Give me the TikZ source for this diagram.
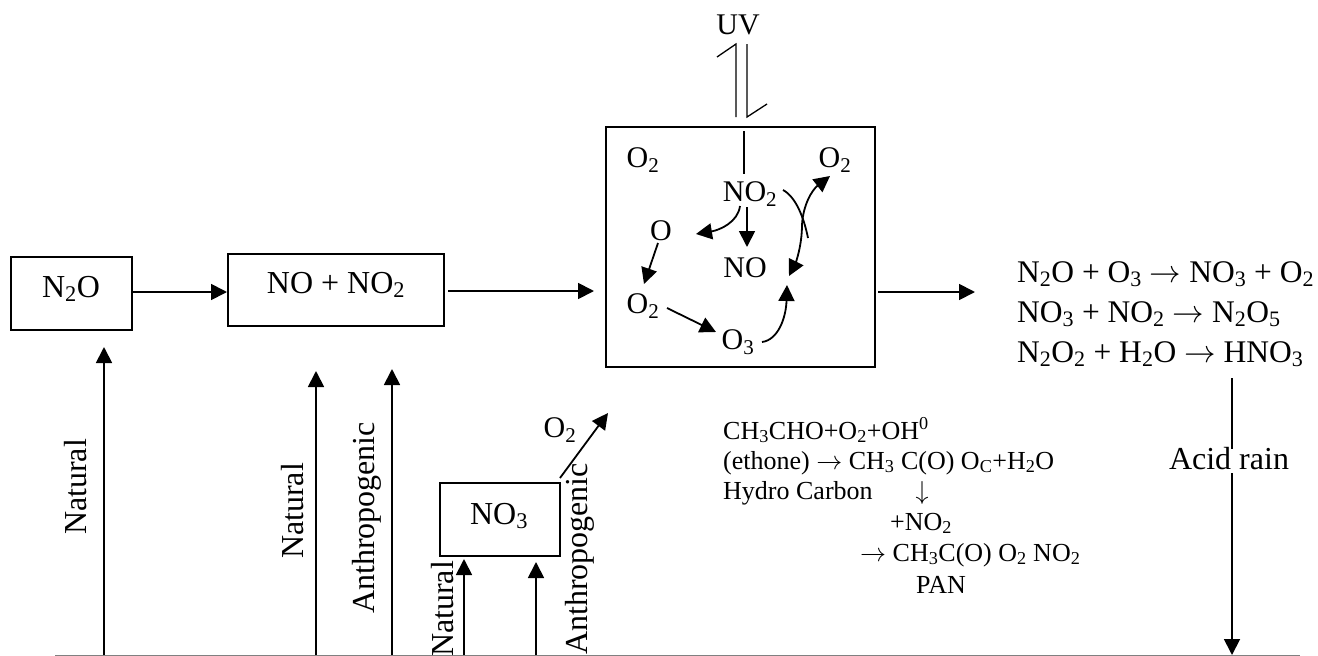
\documentclass[tikz,border=0pt]{standalone}
\usepackage{fix-cm}
\usepackage{fontspec}
\setmainfont{Liberation Serif}
\usetikzlibrary{arrows.meta}
\newcommand{\sbs}[1]{\textsubscript{#1}}
\newcommand{\rar}{$\rightarrow$}
\tikzset{
  lbl/.style={inner sep=0pt,font=\fontsize{30}{36}\selectfont},
  big/.style={inner sep=0pt,font=\fontsize{32}{38}\selectfont},
  sml/.style={inner sep=0pt,anchor=base west,font=\fontsize{26}{30}\selectfont},
  eqn/.style={inner sep=0pt,anchor=base west,font=\fontsize{31.5}{38}\selectfont},
  boxn/.style={draw,line width=1.9pt,inner sep=0pt},
  conn/.style={line width=1.8pt,-{Triangle[length=16pt,width=16pt]}},
  plain/.style={line width=1.8pt},
}
\begin{document}
\begin{tikzpicture}[x=1pt,y=-1pt]
\useasboundingbox (0,0) rectangle (1318,656);
% boxes
\node[boxn,minimum width=121pt,minimum height=73pt] (n2o) at (71.5,293.5) {};
\node[big] (n2ot) at (71,289) {N\sbs{2}O};
\node[boxn,minimum width=216pt,minimum height=72pt] (nono) at (336,290) {};
\node[big] (nonot) at (336,285) {NO + NO\sbs{2}};
\node[boxn,minimum width=269pt,minimum height=240pt] (big) at (740.5,247) {};
\node[boxn,minimum width=120pt,minimum height=73pt] (no3) at (500,519.5) {};
\node[big] (no3t) at (499,516) {NO\sbs{3}};
% top
\node[lbl] (uv) at (738,25) {UV};
\coordinate (hla) at (736,44); \coordinate (hlb) at (736,117); \coordinate (hlc) at (717,57);
\coordinate (hra) at (747,44); \coordinate (hrb) at (747,117); \coordinate (hrc) at (767,104);
\draw[line width=1.3pt] (hlc) -- (hla) -- (hlb);
\draw[line width=1.3pt] (hra) -- (hrb) -- (hrc);
% inside
\node[lbl] (o2a) at (643,160) {O\sbs{2}};
\node[lbl] (o2b) at (835,160) {O\sbs{2}};
\node[lbl] (no2) at (750,194) {NO\sbs{2}};
\node[lbl] (o) at (661,231) {O};
\node[lbl] (no) at (745,268) {NO};
\node[lbl] (o2c) at (643,306) {O\sbs{2}};
\node[lbl] (o3) at (738,342) {O\sbs{3}};
\coordinate (t1) at (744,131); \coordinate (t2) at (744,174);
\draw[plain] (t1) -- (t2);
\coordinate (a1) at (740,206); \coordinate (a2) at (696,234);
\draw[conn] (a1) .. controls (738,222) and (720,230) .. (a2);
\coordinate (b1) at (747,207); \coordinate (b2) at (747,247);
\draw[conn] (b1) -- (b2);
\coordinate (c1) at (658,243); \coordinate (c2) at (644,284);
\draw[conn] (c1) -- (c2);
\coordinate (d1) at (667,308); \coordinate (d2) at (716,332);
\draw[conn] (d1) -- (d2);
\coordinate (e1) at (762,342); \coordinate (e2) at (787,285);
\draw[conn] (e1) .. controls (778,340) and (786,318) .. (e2);
\coordinate (f1) at (783,190); \coordinate (f2) at (808,238);
\draw[plain] (f1) .. controls (796,197) and (804,218) .. (f2);
\coordinate (g1) at (830,176); \coordinate (g2) at (789,276);
\draw[line width=1.8pt,{Triangle[length=16pt,width=16pt]}-{Triangle[length=16pt,width=16pt]}] (g1) .. controls (812,190) and (803,205) .. (802,225) .. controls (802,245) and (796,262) .. (g2);
% horizontal flow
\coordinate (h2) at (227,292);
\draw[conn] (n2o.east |- h2) -- (h2);
\coordinate (i1) at (448,291); \coordinate (i2) at (594,291);
\draw[conn] (i1) -- (i2);
\coordinate (j1) at (878,292); \coordinate (j2) at (975,292);
\draw[conn] (j1) -- (j2);
% baseline
\coordinate (ba) at (55,655); \coordinate (bb) at (1300,655);
\draw[gray,line width=1pt] (ba) -- (bb);
% verticals
\foreach \nm/\xx/\yy in {k/104/347,l/316/371,m/392/369,n/464/559,p/536/562}{
  \coordinate (\nm1) at (\xx,655); \coordinate (\nm2) at (\xx,\yy);
  \draw[conn] (\nm1) -- (\nm2);
}
\coordinate (q1) at (560,478); \coordinate (q2) at (608,413);
\draw[conn] (q1) -- (q2);
\node[lbl] (o2d) at (560,430) {O\sbs{2}};
\coordinate (r1) at (1232,378); \coordinate (r2) at (1232,655);
\draw[conn] (r1) -- (r2);
% rotated
\node[big,rotate=90] (nat1) at (76,487) {Natural};
\node[big,rotate=90] (nat2) at (293,511) {Natural};
\node[big,rotate=90] (ant1) at (367,518) {Anthropogenic};
\node[big,rotate=90] (nat3) at (443,609) {Natural};
\node[big,rotate=90] (ant2) at (580,559) {Anthropogenic};
\node[big,fill=white,text height=20pt,text depth=4pt] (acid) at (1229,461) {Acid rain};
% equations
\node[eqn] (eq1) at (1017,282) {N\sbs{2}O + O\sbs{3} \rar{} NO\sbs{3} + O\sbs{2}};
\node[eqn] (eq2) at (1017,322) {NO\sbs{3} + NO\sbs{2} \rar{} N\sbs{2}O\sbs{5}};
\node[eqn] (eq3) at (1017,362) {N\sbs{2}O\sbs{2} + H\sbs{2}O \rar{} HNO\sbs{3}};
% small text
\node[sml] (s1) at (723,439) {CH\sbs{3}CHO+O\sbs{2}+OH\textsuperscript{0}};
\node[sml] (s2) at (723,469) {(ethone) \rar{} CH\sbs{3} C(O) O\sbs{C}+H\sbs{2}O};
\node[sml] (s3) at (723,499) {Hydro Carbon};
\node[sml,anchor=center] (s3b) at (922,493) {$\downarrow$};
\node[sml] (s4) at (890,530) {+NO\sbs{2}};
\node[sml] (s5) at (860,561) {\rar{} CH\sbs{3}C(O) O\sbs{2} NO\sbs{2}};
\node[sml] (s6) at (916,593) {PAN};
\end{tikzpicture}
\end{document}
